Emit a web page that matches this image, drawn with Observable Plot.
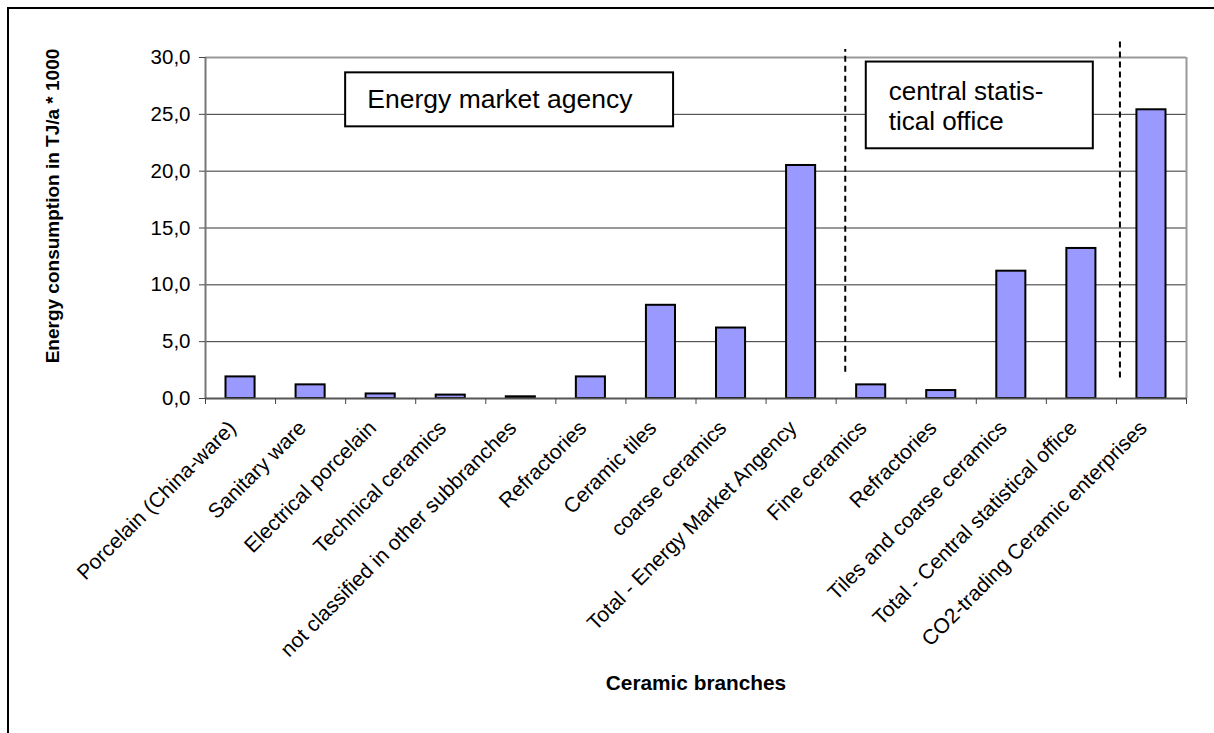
<!DOCTYPE html>
<html>
<head>
<meta charset="utf-8">
<script src="https://cdn.jsdelivr.net/npm/d3@7"></script>
<script src="https://cdn.jsdelivr.net/npm/@observablehq/plot@0.6"></script>
<style>
  body { margin: 0; background: #fff; }
  #wrap { position: relative; width: 1214px; height: 733px; overflow: hidden; }
  #border { position: absolute; left: 7px; top: 7px; width: 1400px; height: 900px;
            border-left: 2px solid #000; border-top: 2px solid #000; }
  #chart { position: absolute; left: 0; top: 0; }
</style>
</head>
<body>
<div id="wrap"><div id="border"></div><div id="chart"></div></div>
<script>
// Ceramic branches (two data sources plus the CO2-trading total)
const branches = [
  "Porcelain (China-ware)",
  "Sanitary ware",
  "Electrical porcelain",
  "Technical ceramics",
  "not classified in other subbranches",
  "Refractories",
  "Ceramic tiles",
  "coarse ceramics",
  "Total - Energy Market Angency",
  "Fine ceramics",
  "Refractories",
  "Tiles and coarse ceramics",
  "Total - Central statistical office",
  "CO2-trading Ceramic enterprises"
];

// Energy consumption in TJ/a * 1000
const consumption = [1.9, 1.2, 0.4, 0.3, 0.15, 1.9, 8.2, 6.2, 20.5, 1.2, 0.7, 11.2, 13.2, 25.4];

const yTicks = [0, 5, 10, 15, 20, 25, 30];

const rows = branches.map((name, i) => ({ i, name, value: consumption[i] }));
const fmt = d => d.toFixed(1).replace(".", ",");
const font = "'Liberation Sans', Arial, Helvetica, sans-serif";
const n = branches.length;

const chart = Plot.plot({
  width: 1214,
  height: 733,
  marginLeft: 205,
  marginRight: 28,
  marginTop: 57,
  marginBottom: 335,
  style: { fontFamily: font, background: "transparent", color: "#000", overflow: "visible" },
  x: { type: "linear", domain: [0, n] },
  y: { domain: [0, 30] },
  marks: [
    // horizontal gridlines
    Plot.ruleY(yTicks.filter(t => t > 0 && t < 30), { stroke: "#333", strokeWidth: 1 }),
    // plot-area border (top and right)
    Plot.ruleY([30], { stroke: "#999", strokeWidth: 2 }),
    Plot.ruleX([n], { stroke: "#999", strokeWidth: 2 }),

    // dashed separators between the data sources
    Plot.ruleX([9.13], { y1: 2.3, y2: 30.7, stroke: "#000", strokeWidth: 2, strokeDasharray: "6,4" }),
    Plot.ruleX([13.05], { y1: 1.8, y2: 31.6, stroke: "#000", strokeWidth: 2, strokeDasharray: "6,4" }),

    // source label boxes
    Plot.rect([0], { x1: 2.0, x2: 6.68, y1: 23.9, y2: 28.65, fill: "#fff", stroke: "#000", strokeWidth: 2 }),
    Plot.text(["Energy market agency"], {
      x: 2.31, y: 26.3, text: d => d, textAnchor: "start", lineAnchor: "middle",
      fontSize: 26.5, fill: "#000"
    }),
    Plot.rect([0], { x1: 9.43, x2: 12.67, y1: 21.97, y2: 29.6, fill: "#fff", stroke: "#000", strokeWidth: 2 }),
    Plot.text(["central statis-\ntical office"], {
      x: 9.75, y: 25.8, text: d => d, textAnchor: "start", lineAnchor: "middle",
      fontSize: 26, lineHeight: 1.15, fill: "#000"
    }),

    // bars
    Plot.rectY(rows, {
      x1: d => d.i, x2: d => d.i + 1, y: "value",
      insetLeft: 20.5, insetRight: 20.5,
      fill: "#9999FF", stroke: "#000", strokeWidth: 2
    }),

    // axes
    Plot.ruleX([0], { stroke: "#777", strokeWidth: 2 }),
    Plot.ruleY([0], { stroke: "#555", strokeWidth: 2 }),
    Plot.axisY({
      ticks: yTicks, tickFormat: fmt, tickSize: 6, tickPadding: 9,
      fontSize: 20.5, label: null, stroke: "#444"
    }),
    Plot.axisX({
      ticks: d3.range(n + 1), tickFormat: () => "", tickSize: 6,
      label: null, stroke: "#444"
    }),
    Plot.axisX({
      ticks: d3.range(n).map(i => i + 0.5), tickFormat: t => branches[Math.floor(t)],
      tickSize: 0, tickPadding: 26, dx: -8, tickRotate: -45, fontSize: 21, label: null
    }),

    // axis titles
    Plot.text(["Energy consumption in TJ/a * 1000"], {
      frameAnchor: "left", text: d => d, rotate: -90, dx: -153, dy: -22,
      textAnchor: "middle", lineAnchor: "middle",
      fontSize: 19, fontWeight: "bold", fill: "#000"
    }),
    Plot.text(["Ceramic branches"], {
      frameAnchor: "bottom", text: d => d, dy: 285, lineAnchor: "middle",
      fontSize: 20.8, fontWeight: "bold", fill: "#000"
    })
  ]
});

document.getElementById("chart").appendChild(chart);
</script>
</body>
</html>
